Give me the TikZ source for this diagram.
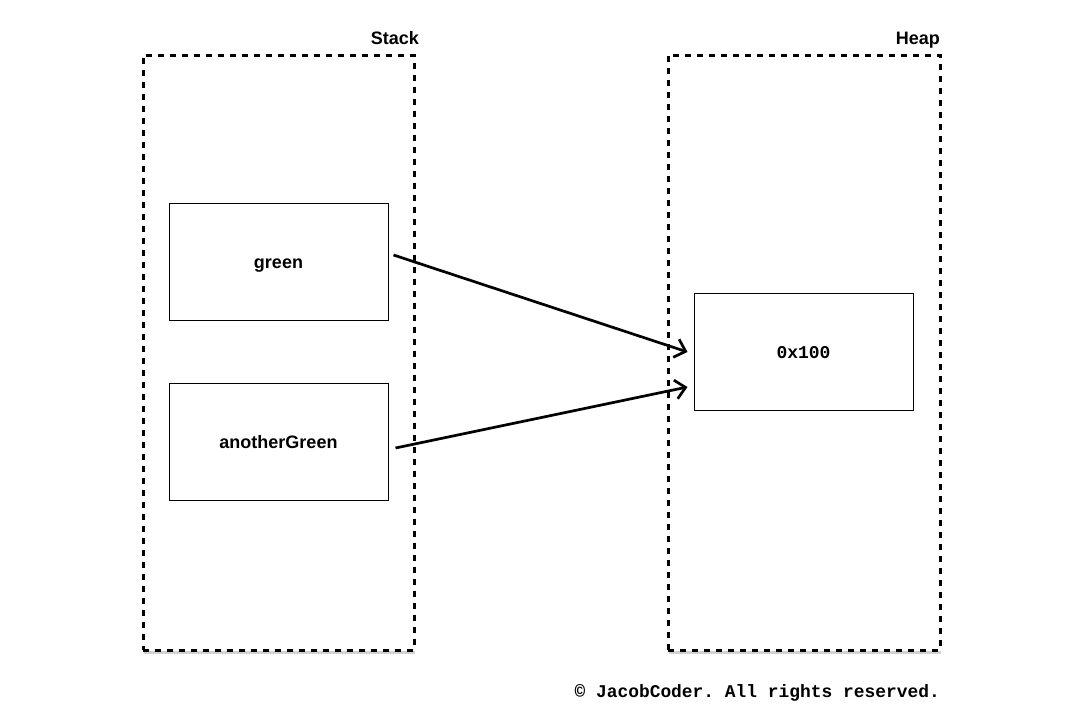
\documentclass[tikz,border=0pt]{standalone}
\usepackage{fontspec}
\setmainfont{Liberation Sans}
\setmonofont{Liberation Mono}
\usetikzlibrary{arrows.meta,calc}
\begin{document}
\begin{tikzpicture}[x=1pt,y=-1pt,
  region/.style={draw=black,line width=3pt,dash pattern=on 6pt off 6pt},
  shade/.style={fill=black!18},
  regionlabel/.style={font=\fontsize{18}{20}\selectfont\bfseries,anchor=base east,inner sep=0pt},
  varbox/.style={draw=black,line width=1pt,minimum width=219pt,minimum height=117pt,
    font=\fontsize{18}{20}\selectfont\bfseries,text depth=0pt},
  addrbox/.style={varbox,font=\fontsize{18}{20}\selectfont\ttfamily\bfseries},
  ref/.style={line width=2.7pt,-{Straight Barb[length=10pt,width=19pt,line width=2.7pt]}}
]
\useasboundingbox (0,0) rectangle (1080,728);
\fill[white] (0,0) rectangle (1080,728);
\fill[shade] (144,651) rectangle (415,654);
\fill[shade] (669,651) rectangle (941,654);
\node[region,minimum width=271pt,minimum height=595pt,inner sep=0pt] (stack) at (278.5,352.5) {};
\node[region,minimum width=272pt,minimum height=595pt,inner sep=0pt] (heap) at (804,352.5) {};
\node[regionlabel] (stacklabel) at (419,44) {Stack};
\node[regionlabel] (heaplabel) at (940,44) {Heap};
\node[varbox] (green) at (278.5,261.5) {};
\node[varbox] (another) at (278.5,441.5) {};
\node[addrbox] (addr) at (803.5,351.5) {};
\node[font=\fontsize{18}{20}\selectfont\bfseries,inner sep=0pt,anchor=base] (greentext) at ($(green.center)+(0,7)$) {green};
\node[font=\fontsize{18}{20}\selectfont\bfseries,inner sep=0pt,anchor=base] (anothertext) at ($(another.center)+(0,7)$) {anotherGreen};
\node[font=\fontsize{18}{20}\selectfont\ttfamily\bfseries,inner sep=0pt,anchor=base] (addrtext) at ($(addr.center)+(0,7)$) {0x100};
\coordinate (s1) at ($(green.east)+(5,-6.5)$);
\coordinate (e1) at ($(addr.west)+(-6,0.5)$);
\coordinate (s2) at ($(another.east)+(7,6.5)$);
\coordinate (e2) at ($(addr.west)+(-6,35.5)$);
\draw[ref] (s1) -- (e1);
\draw[ref] (s2) -- (e2);
\node[anchor=base east,inner sep=0pt,font=\fontsize{17.9}{20}\selectfont\ttfamily\bfseries] (copy) at (940,697) {© JacobCoder. All rights reserved.};
\end{tikzpicture}
\end{document}
